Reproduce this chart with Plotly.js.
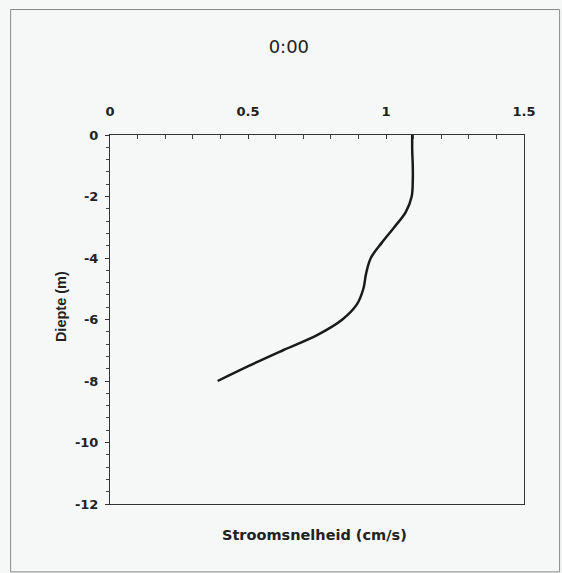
<!DOCTYPE html>
<html>
<head>
<meta charset="utf-8">
<script src="https://cdn.plot.ly/plotly-3.0.1.min.js"></script>
<style>html,body{margin:0;padding:0;background:#f6f7f7;}#chart{width:562px;height:573px;}</style>
</head>
<body>
<div id="chart"></div>
<script>
// Depth (m) and current speed (cm/s)
const depth = [0, -0.5, -1, -1.5, -2, -2.5, -3, -3.5, -4, -4.5, -5, -5.5, -6, -6.5, -7, -7.5, -8];
const speed = [1.095, 1.095, 1.097, 1.097, 1.093, 1.072, 1.03, 0.985, 0.945, 0.928, 0.918, 0.895, 0.842, 0.752, 0.627, 0.505, 0.39];
const xTicks = [0, 0.5, 1, 1.5];
const xTickText = ['0', '0.5', '1', '1.5'];
const yTicks = [0, -2, -4, -6, -8, -10, -12];
const yTickText = ['0', '-2', '-4', '-6', '-8', '-10', '-12'];

const wide = "DejaVu Sans, Verdana, sans-serif";
const narrow = "Liberation Sans, Arial, sans-serif";

const trace = {
  x: speed, y: depth, type: 'scatter', mode: 'lines',
  line: {color: '#1a1a1a', width: 2.5, shape: 'spline', smoothing: 1},
  hoverinfo: 'skip'
};

const layout = {
  width: 562, height: 573,
  paper_bgcolor: '#f6f7f7', plot_bgcolor: '#f6f7f7',
  margin: {l: 110, r: 38, t: 135, b: 69},
  showlegend: false,
  title: {text: '0:00', xref: 'paper', x: 0.432, xanchor: 'center', yref: 'container', y: 0.918, yanchor: 'middle',
          font: {family: wide, size: 18, color: '#222'}},
  xaxis: {
    side: 'top', range: [0, 1.5], tickmode: 'array', tickvals: xTicks, ticktext: xTickText,
    showgrid: false, zeroline: false, showline: true, mirror: true,
    linecolor: '#333', linewidth: 1, ticks: 'inside', ticklen: 4, tickcolor: '#333',
    minor: {tickmode: 'linear', tick0: 0, dtick: 0.1, ticks: 'inside', ticklen: 4, tickcolor: '#444', showgrid: false},
    tickfont: {family: wide, size: 13, color: '#222', weight: 'bold'},
    ticklabelstandoff: 13
  },
  yaxis: {
    range: [-12, 0], tickmode: 'array', tickvals: yTicks, ticktext: yTickText,
    showgrid: false, zeroline: false, showline: true, mirror: true,
    linecolor: '#333', linewidth: 1, ticks: 'outside', ticklen: 4, tickcolor: '#333',
    minor: {tickmode: 'linear', tick0: 0, dtick: 0.4, ticks: 'outside', ticklen: 3, tickcolor: '#444', showgrid: false},
    tickfont: {family: wide, size: 13, color: '#222', weight: 'bold'},
    ticklabelstandoff: 4
  },
  annotations: [
    {text: '<b>Stroomsnelheid (cm/s)</b>', xref: 'paper', yref: 'paper', x: 0.495, y: -0.084,
     xanchor: 'center', yanchor: 'middle', showarrow: false,
     font: {family: wide, size: 14.5, color: '#222'}},
    {text: '<b>Diepte (m)</b>', xref: 'paper', yref: 'paper', x: -0.118, y: 0.534,
     xanchor: 'center', yanchor: 'middle', showarrow: false, textangle: -90,
     font: {family: narrow, size: 14.5, color: '#222'}}
  ],
  shapes: [
    {type: 'rect', xref: 'paper', yref: 'paper', x0: -0.24, x1: 1.086, y0: -0.184, y1: 1.34,
     line: {color: '#888', width: 1}}
  ]
};

Plotly.newPlot('chart', [trace], layout, {displayModeBar: false, staticPlot: true});
</script>
</body>
</html>
